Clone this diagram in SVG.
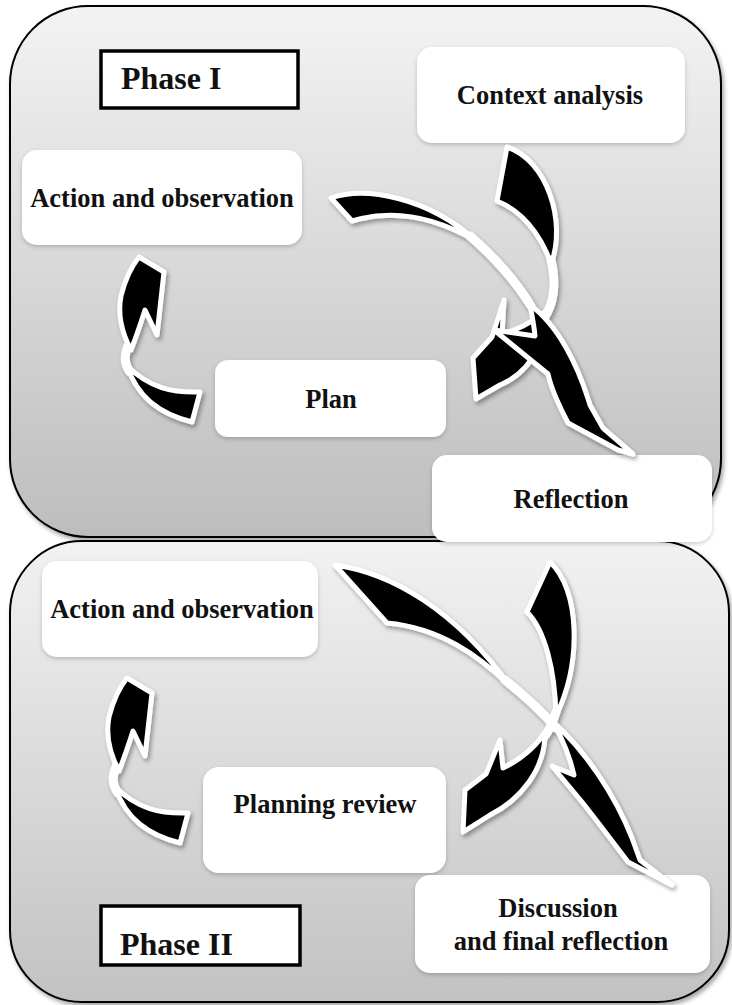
<svg xmlns="http://www.w3.org/2000/svg" width="732" height="1005" viewBox="0 0 732 1005">
<defs>
<style>
.panel{stroke:#000;stroke-width:2}
.box{fill:#fff;filter:url(#bsh)}
.phase{fill:#fff;stroke:#000;stroke-width:3.5}
.lbl{font-family:"Liberation Serif","Times New Roman",serif;font-weight:bold;font-size:26.5px;fill:#111;text-anchor:middle}
.plbl{font-family:"Liberation Serif","Times New Roman",serif;font-weight:bold;font-size:32px;fill:#111}
.arw{fill:#000;stroke:#fff;stroke-width:5;stroke-linejoin:round}
.band{fill:none;stroke:#fff;stroke-width:9;stroke-linecap:round}
</style>
<linearGradient id="g1" x1="0" y1="0" x2="0" y2="1">
<stop offset="0" stop-color="#f3f3f3"/><stop offset="1" stop-color="#bdbdbd"/>
</linearGradient>
<linearGradient id="g2" x1="0" y1="0" x2="0" y2="1">
<stop offset="0" stop-color="#f2f2f2"/><stop offset="1" stop-color="#c2c2c2"/>
</linearGradient>
<filter id="sh" x="-20%" y="-20%" width="140%" height="140%">
<feDropShadow dx="2" dy="3" stdDeviation="2" flood-color="#000" flood-opacity="0.35"/>
</filter>
<filter id="bsh" x="-10%" y="-10%" width="120%" height="130%">
<feDropShadow dx="0" dy="2" stdDeviation="2" flood-color="#000" flood-opacity="0.2"/>
</filter>
<g id="smallArrow">
<path class="band" d="M129,344 Q121,360 130,372"/>
<path class="arw" d="M139,257 L164,272 L157,335 L145,310 Q138,332 131,350 Q116,322 121,296 Q127,272 139,257 Z"/>
<path class="arw" d="M127,366 C150,388 172,393 200,392 L192,422 C160,414 138,398 127,366 Z"/>
</g>
</defs>

<g id="panel-phase1"><rect class="panel" x="10" y="6" width="711" height="531" rx="78" fill="url(#g1)" filter="url(#sh)"/></g>
<g id="panel-phase2"><rect class="panel" x="10" y="541" width="719" height="461" rx="72" fill="url(#g2)" filter="url(#sh)"/></g>

<g id="phase1-label"><rect class="phase" x="101" y="51" width="197" height="57"/><text class="plbl" x="121" y="89">Phase I</text></g>
<g id="context-analysis"><rect class="box" x="417" y="47" width="268" height="96" rx="15"/><text class="lbl" x="550" y="104">Context analysis</text></g>
<g id="action-observation-1"><rect class="box" x="22" y="150" width="280" height="95" rx="15"/><text class="lbl" x="162" y="207">Action and observation</text></g>
<g id="plan"><rect class="box" x="215" y="360" width="231" height="77" rx="13"/><text class="lbl" x="331" y="408">Plan</text></g>
<g id="reflection"><rect class="box" x="432" y="455" width="280" height="87" rx="15"/><text class="lbl" x="571" y="508">Reflection</text></g>

<g id="action-observation-2"><rect class="box" x="42" y="561" width="276" height="96" rx="15"/><text class="lbl" x="182" y="618">Action and observation</text></g>
<g id="planning-review"><rect class="box" x="203" y="767" width="243" height="106" rx="16"/><text class="lbl" x="325" y="813">Planning review</text></g>
<g id="discussion"><rect class="box" x="415" y="875" width="295" height="98" rx="15"/><text class="lbl" x="558" y="917">Discussion</text><text class="lbl" x="561" y="950">and final reflection</text></g>
<g id="phase2-label"><rect class="phase" x="101" y="906" width="199" height="59"/><text class="plbl" x="120" y="955">Phase II</text></g>

<g id="connectors" filter="url(#sh)">
<!-- Phase I: Plan -> Action and observation -->
<use href="#smallArrow"/>
<!-- Context analysis -> Plan -->
<path class="arw" d="M507,147 C547,160 567,222 551,264 C540,232 520,210 497,201 Z"/>
<path class="band" d="M551,260 C557,285 553,305 544,318"/>
<path class="arw" d="M545,312 C548,345 525,375 500,385 L476,399 L473,358 L492,337 L504,300 L502,334 C518,330 532,322 545,312 Z"/>
<!-- Action and observation -> Reflection -->
<path class="arw" d="M331,198 C365,186 428,197 476,241 C440,220 398,207 352,221 Z"/>
<path class="band" d="M470,236 C500,262 518,285 531,306"/>
<path class="arw" d="M530,305 C558,325 578,365 590,405 L603,428 L633,454 L618,450 L568,423 C557,402 551,388 548,374 L494,330 L535,336 C534,325 532,315 530,305 Z"/>
<!-- Phase II: Planning review -> Action and observation -->
<use href="#smallArrow" transform="translate(-12,421)"/>
<!-- Reflection -> Planning review -->
<path class="arw" d="M550,562 C580,590 582,662 556,716 C555,670 545,630 527,612 Z"/>
<path class="band" d="M556,712 C552,725 548,733 543,738"/>
<path class="arw" d="M545,733 C545,770 520,800 490,815 L463,832 L465,790 L486,774 L500,740 L503,768 C520,760 534,748 545,733 Z"/>
<!-- Action and observation -> Discussion and final reflection -->
<path class="arw" d="M335,565 C392,573 455,610 510,686 C478,655 440,628 387,623 Z"/>
<path class="band" d="M505,680 C530,700 545,715 556,728"/>
<path class="arw" d="M553,722 C585,750 615,795 632,838 L640,860 L672,885 L628,862 C615,845 598,822 582,802 L552,766 L574,775 C570,757 563,740 553,722 Z"/>
</g>
</svg>
